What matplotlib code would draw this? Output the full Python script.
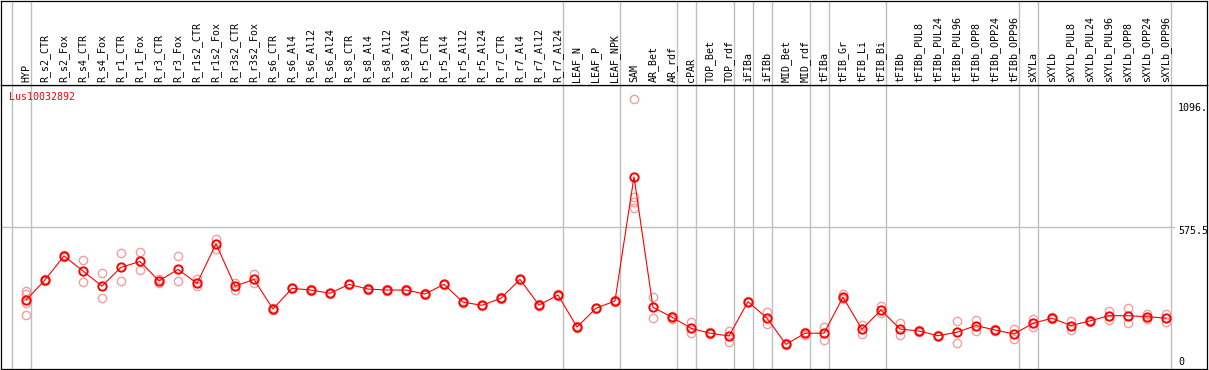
import matplotlib
matplotlib.use('Agg')
from matplotlib import pyplot as plt

# categories along the x axis
samples = ['HYP', 'R_s2_CTR', 'R_s2_Fox', 'R_s4_CTR', 'R_s4_Fox', 'R_r1_CTR', 'R_r1_Fox',
           'R_r3_CTR', 'R_r3_Fox', 'R_r1s2_CTR', 'R_r1s2_Fox', 'R_r3s2_CTR', 'R_r3s2_Fox',
           'R_s6_CTR', 'R_s6_Al4', 'R_s6_Al12', 'R_s6_Al24', 'R_s8_CTR', 'R_s8_Al4',
           'R_s8_Al12', 'R_s8_Al24', 'R_r5_CTR', 'R_r5_Al4', 'R_r5_Al12', 'R_r5_Al24',
           'R_r7_CTR', 'R_r7_Al4', 'R_r7_Al12', 'R_r7_Al24', 'LEAF_N', 'LEAF_P', 'LEAF_NPK',
           'SAM', 'AR_Bet', 'AR_rdf', 'cPAR', 'TOP_Bet', 'TOP_rdf', 'iFIBa', 'iFIBb',
           'MID_Bet', 'MID_rdf', 'tFIBa', 'tFIB_Gr', 'tFIB_Li', 'tFIB_Bi', 'tFIBb',
           'tFIBb_PUL8', 'tFIBb_PUL24', 'tFIBb_PUL96', 'tFIBb_OPP8', 'tFIBb_OPP24',
           'tFIBb_OPP96', 'sXYLa', 'sXYLb', 'sXYLb_PUL8', 'sXYLb_PUL24', 'sXYLb_PUL96',
           'sXYLb_OPP8', 'sXYLb_OPP24', 'sXYLb_OPP96']

# mean expression per sample
means = [279, 361, 458, 397, 336, 412, 436, 357, 404, 347, 507, 336, 363,
         243, 327, 320, 307, 343, 324, 320, 320, 304, 343, 271, 258,
         287, 363, 259, 300, 170, 246, 276,
         779, 250, 210, 165, 145, 134, 273, 206,
         100, 145, 145, 291, 161, 239, 162,
         154, 135, 149, 176, 158, 142,
         185, 206, 176, 195, 216, 216, 212, 206]

# individual replicates
reps = [[318, 304, 268, 218], [366, 356], [462, 454], [442, 351], [388, 286],
        [469, 357], [474, 400], [366, 348], [458, 357], [364, 336], [527, 486],
        [349, 322], [384, 350], [246, 240], [330, 324], [323, 317], [310, 304],
        [346, 340], [327, 321], [323, 317], [323, 317], [307, 301], [346, 340],
        [274, 268], [261, 255], [290, 284], [366, 360], [262, 256], [303, 297],
        [173, 167], [249, 243], [279, 273],
        [1096, 698, 678, 651], [291, 206], [216, 204], [189, 145], [150, 140],
        [155, 110], [277, 270], [230, 181], [104, 97], [150, 138], [171, 117],
        [304, 286, 283], [178, 143], [257, 225], [185, 137], [157, 151],
        [138, 132], [193, 104], [199, 154], [161, 155], [162, 122],
        [201, 169], [209, 202], [194, 158], [197, 192], [235, 199], [246, 186],
        [222, 202], [223, 189]]

gene = 'Lus10032892'
ymax = 1151
ticks = [1096, 575.5, 0]
tick_labels = ['1096.', '575.5', '0']
# last sample of each group (separator drawn after it)
group_ends = [-1, 0, 28, 31, 34, 35, 37, 38, 39, 41, 42, 45, 52, 53, 60]

W, H = 1209, 370
fig = plt.figure(figsize=(W/100, H/100), dpi=100)
font = 'DejaVu Sans Mono'
fs = 7.2

x0, x1 = (1-26)/19.0, (1207-26)/19.0
ax = fig.add_axes([1.0/W, 1.0/H, 1206.0/W, 284.0/H])
hx = fig.add_axes([1.0/W, 285.0/H, 1206.0/W, 84.5/H])

for a in (ax, hx):
    a.set_xlim(x0, x1)
    a.set_xticks([]); a.set_yticks([])
    for s in a.spines.values():
        s.set_color('black'); s.set_linewidth(0.9)
    for g in group_ends:
        a.axvline(g + 0.24, color='#c0c0c0', lw=1, zorder=0)
ax.set_ylim(0, ymax)
hx.set_ylim(0, 1)

ax.axhline(575.5, xmin=0, xmax=0.973, color='#c0c0c0', lw=1, zorder=0)

xs = list(range(len(samples)))
for i, r in enumerate(reps):
    ax.plot([i]*len(r), r, 'o', ms=6, mfc='none', mec='#f0a0a0', mew=1, zorder=2)
ax.plot(xs, means, '-', color='red', lw=0.8, zorder=3)
ax.plot(xs, means, 'o', ms=6, mfc='none', mec='red', mew=1.4, zorder=4)

for i, s in enumerate(samples):
    hx.text(i, 0.03, s, rotation=90, ha='center', va='bottom', fontsize=fs, family=font)

ax.text(8.0/1206, 0.958, gene, transform=ax.transAxes, color='red', fontsize=fs,
        family=font, ha='left', va='center')

offs = [-9, -4, 7]
for v, t, o in zip(ticks, tick_labels, offs):
    ax.annotate(t, xy=(1, v), xycoords=('axes fraction', 'data'), xytext=(-29, o),
                textcoords='offset pixels', ha='left', va='center', fontsize=fs,
                family=font, annotation_clip=False)

fig.savefig('out.png', dpi=100)
